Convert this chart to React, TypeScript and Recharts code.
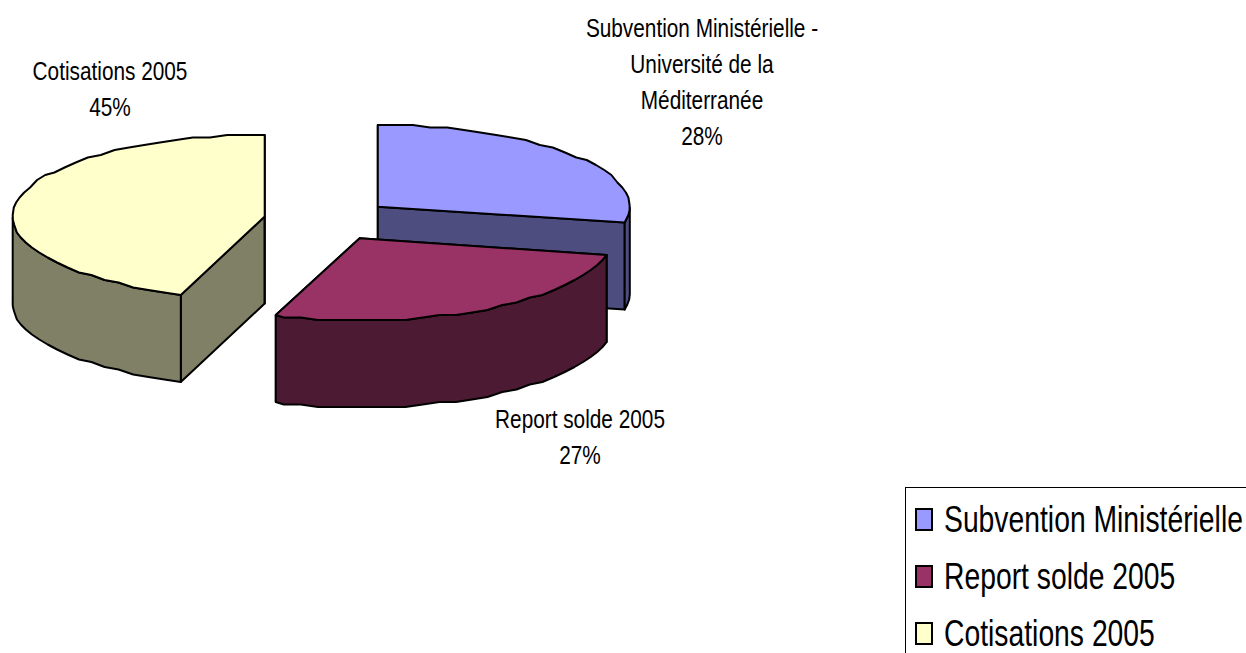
import * as React from "react";
import { Legend, Pie, PieChart } from "recharts";

const CATEGORIES = ["Subvention Ministérielle", "Report solde 2005", "Cotisations 2005"];
const SHARES = [28.2, 27.2, 44.6];
const LABEL_LINES = [
  ["Subvention Ministérielle -", "Université de la", "Méditerranée"],
  ["Report solde 2005"],
  ["Cotisations 2005"],
];
const TOP_COLORS = ["#9999FF", "#993366", "#FFFFCC"];
const SIDE_COLORS = ["#4D4D80", "#4D1A33", "#808066"];

const WIDTH = 1246;
const HEIGHT = 653;
const SQUASH = 82 / 252;
const DEPTH = 87;
const EXPLODE = 0.255;
const GRID = 2.5;
const LABEL_POS = [
  { x: 702, y: 37 },
  { x: 580, y: 428 },
  { x: 110, y: 80 },
];
const LINE_HEIGHT = 36;
const FONT = "'Liberation Sans', Arial, sans-serif";
const NARROW = 0.8;

const data = CATEGORIES.map((name, i) => ({
  name,
  value: SHARES[i],
  fill: TOP_COLORS[i],
  side: SIDE_COLORS[i],
}));

const rad = (a: number) => (a * Math.PI) / 180;
const snap = (v: number) => Math.round(v / GRID) * GRID;
const toPath = (pts: number[][]) =>
  pts.map((p, i) => `${i ? "L" : "M"}${p[0].toFixed(1)},${p[1].toFixed(1)}`).join(" ") + " Z";

// one exploded slab: back faces first, then the rim, then the lid
const Slab = (props: any) => {
  const { cx, cy, outerRadius: r, startAngle, endAngle, midAngle, payload } = props;
  const ax = cx + EXPLODE * r * Math.cos(rad(midAngle));
  const ay = cy - EXPLODE * r * SQUASH * Math.sin(rad(midAngle));
  const rim = (a: number) => {
    const x = ax + r * Math.cos(rad(a));
    const y = ay - r * SQUASH * Math.sin(rad(a));
    return [x, snap(y)];
  };
  const arc = (from: number, to: number) => {
    const pts: number[][] = [];
    for (let a = from; a > to; a -= 4) pts.push(rim(a));
    pts.push(rim(to));
    return pts;
  };
  const down = (p: number[]) => [p[0], p[1] + DEPTH];
  const apex = [ax, ay];
  const shared = { stroke: "#000", strokeWidth: 2, strokeLinejoin: "round" as const };
  const wallFrom = Math.min(startAngle, 0);
  const wallTo = Math.max(endAngle, -180);
  const wall = wallFrom > wallTo ? arc(wallFrom, wallTo) : [];
  const side = payload?.side ?? props.side;
  const face = (a: number) => {
    const p = rim(a);
    return toPath([apex, p, down(p), down(apex)]);
  };
  return (
    <g>
      <path d={face(startAngle)} fill={side} {...shared} />
      <path d={face(endAngle)} fill={side} {...shared} />
      {wall.length > 0 && (
        <path d={toPath([...wall, ...wall.map(down).reverse()])} fill={side} {...shared} />
      )}
      <path d={toPath([apex, ...arc(startAngle, endAngle)])} fill={props.fill} {...shared} />
    </g>
  );
};

const SliceLabel = (props: any) => {
  const { index, percent } = props;
  const pos = LABEL_POS[index];
  const lines = [...LABEL_LINES[index], `${Math.round(percent * 100)}%`];
  return (
    <g>
      {lines.map((line, i) => (
        <text
          key={line}
          textAnchor="middle"
          fontFamily={FONT}
          fontSize={26}
          fill="#000"
          transform={`translate(${pos.x},${pos.y + i * LINE_HEIGHT}) scale(${NARROW},1)`}
        >
          {line}
        </text>
      ))}
    </g>
  );
};

const LegendBox = () => (
  <div
    style={{
      width: 360,
      height: 190,
      boxSizing: "border-box",
      border: "1px solid #000",
      background: "#fff",
      fontFamily: FONT,
      fontSize: 37,
      lineHeight: "57px",
      padding: "3px 0 0 9px",
      whiteSpace: "nowrap",
    }}
  >
    {CATEGORIES.map((name, i) => (
      <div key={name} style={{ display: "flex", alignItems: "center", height: 57 }}>
        <span
          style={{
            width: 18,
            height: 23,
            boxSizing: "border-box",
            border: "2px solid #000",
            background: TOP_COLORS[i],
            marginRight: 11,
            flex: "none",
          }}
        />
        <span style={{ display: "inline-block", transform: "scaleX(0.765)", transformOrigin: "0 50%" }}>
          {name}
        </span>
      </div>
    ))}
  </div>
);

export default function App() {
  return (
    <div
      style={{
        position: "absolute",
        left: 0,
        top: 0,
        width: WIDTH,
        height: HEIGHT,
        overflow: "hidden",
        background: "#fff",
      }}
    >
      <PieChart width={WIDTH} height={HEIGHT} margin={{ top: 0, right: 0, bottom: 0, left: 0 }}>
        <Pie
          data={data}
          dataKey="value"
          nameKey="name"
          cx={328}
          cy={220}
          outerRadius={252}
          startAngle={90}
          endAngle={-270}
          paddingAngle={0}
          stroke="none"
          isAnimationActive={false}
          shape={Slab}
          label={SliceLabel}
          labelLine={false}
        />
        <Legend
          content={<LegendBox />}
          wrapperStyle={{ position: "absolute", left: 905, top: 487, width: 360, bottom: "auto" }}
        />
      </PieChart>
    </div>
  );
}
